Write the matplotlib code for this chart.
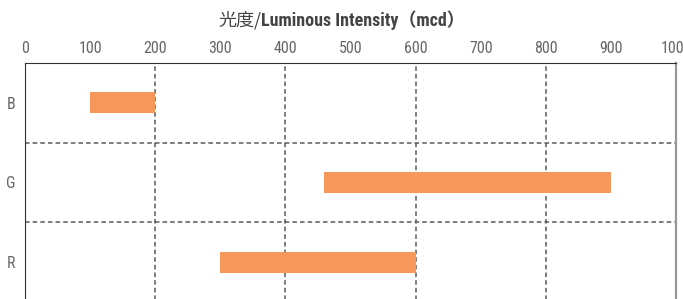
import matplotlib
matplotlib.use('Agg')
import matplotlib.pyplot as plt

# data
colores = ['B', 'G', 'R']
inicio = [100, 460, 300]
fin = [200, 900, 600]
ticks_x = [0, 100, 200, 300, 400, 500, 600, 700, 800, 900, 1000]
lineas_x = [200, 400, 600, 800]
titulo_cjk = '光度/'
titulo_lat = 'Luminous Intensity（mcd）'

fuentes = ['Roboto Condensed', 'Roboto', 'Noto Sans CJK JP', 'DejaVu Sans']
plt.rcParams['font.family'] = fuentes

fig = plt.figure(figsize=(6.83, 2.99), dpi=100)
# el eje baja un poco por debajo del borde, como en la referencia
ax = fig.add_axes([25/683, -3/299, 651/683, 239/299])

y = list(range(len(colores)))
ax.barh(y, [f - i for i, f in zip(inicio, fin)], left=inicio, height=0.26,
        color='#f79759', zorder=3)

ax.set_xlim(0, 1000)
ax.set_ylim(len(colores) - 0.5, -0.5)
ax.set_xticks(ticks_x)
ax.xaxis.tick_top()
ax.tick_params(axis='x', length=0, pad=5, labelsize=11.5, labelcolor='#666666')
ax.set_yticks(y)
ax.set_yticklabels(colores)
ax.tick_params(axis='y', length=0, pad=7, labelsize=11.5, labelcolor='#666666')

for xv in lineas_x:
    ax.axvline(xv, color='#5a5a5a', linestyle=(0, (3, 2)), linewidth=1.1, zorder=1)
for yv in [0.5, 1.5]:
    ax.axhline(yv, color='#5a5a5a', linestyle=(0, (3, 2)), linewidth=1.1, zorder=1)

ax.spines['left'].set_color('#333333')
ax.spines['top'].set_color('#333333')
ax.spines['right'].set_color('#999999')
ax.spines['right'].set_linewidth(1.6)
ax.spines['bottom'].set_visible(False)

# titulo: parte CJK normal, parte latina en negrita
t1 = fig.text(0.5, 1 - 20/299, titulo_cjk, ha='right', va='center', fontsize=13,
              color='#444444', family=['Noto Sans CJK JP', 'DejaVu Sans'])
fig.canvas.draw()
ancho_cjk = t1.get_window_extent().width / fig.bbox.width
t2 = fig.text(0.5, 1 - 20/299, titulo_lat, ha='left', va='center', fontsize=13,
              color='#444444', fontweight='bold')
fig.canvas.draw()
ancho_lat = t2.get_window_extent().width / fig.bbox.width
x0 = 0.5 - (ancho_cjk + ancho_lat) / 2
t1.set_x(x0 + ancho_cjk)
t2.set_x(x0 + ancho_cjk)

fig.savefig('out.png', dpi=100)
